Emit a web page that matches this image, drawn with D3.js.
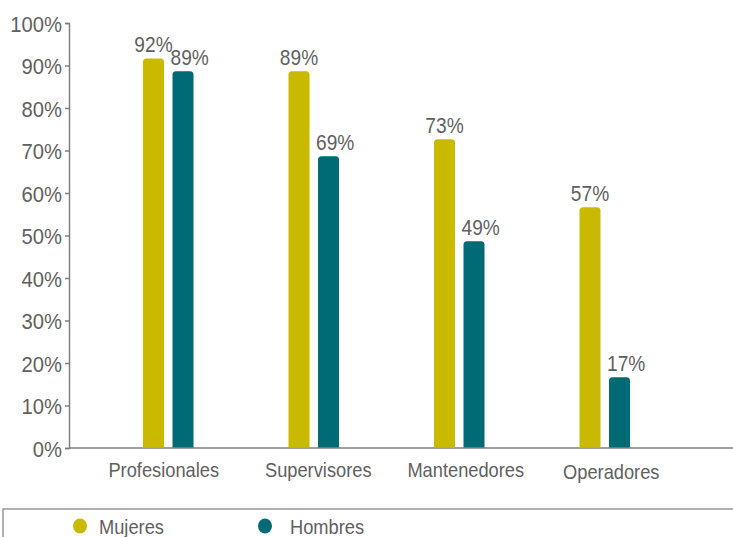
<!DOCTYPE html>
<html><head><meta charset="utf-8">
<script src="https://cdn.jsdelivr.net/npm/d3@7"></script>
<style>
body{margin:0;background:#fff;}
text{font-family:"Liberation Sans",Arial,sans-serif;fill:#5f5f5f;}
</style></head>
<body><svg id="c" width="733" height="537"></svg>
<script>
const categories = ["Profesionales","Supervisores","Mantenedores","Operadores"];
const series = ["Mujeres","Hombres"];
const mujeres = [92,89,73,57];
const hombres = [89,69,49,17];
const yTicks = [0,10,20,30,40,50,60,70,80,90,100];
const colors = {Mujeres:"#C9BA00", Hombres:"#006B75"};
const SX = 0.87;

const svg = d3.select("#c");
const x0 = d3.scaleBand().domain(categories).range([96,678]).padding(0);
const x1 = d3.scaleBand().domain(series).range([0,50.5]).paddingInner(0.288).paddingOuter(0);
const y = d3.scaleLinear().domain([0,100]).range([448,23]);

function narrow(sel, xf, yf, sx){
  sel.attr("x",0).attr("y",0)
     .attr("transform",(d,i)=>`translate(${xf(d,i)},${yf(d,i)}) scale(${sx||SX},1)`);
}

// y axis
const yAxis = d3.axisLeft(y).tickValues(yTicks).tickSize(4).tickFormat(d=>d+"%");
const gy = svg.append("g").attr("transform","translate(69,0)").call(yAxis);
gy.attr("font-family",null).attr("font-size",null);
gy.select(".domain").attr("stroke","#7f7f7f").attr("stroke-width",1.5);
gy.selectAll(".tick line").attr("stroke","#7f7f7f").attr("stroke-width",1.5);
gy.selectAll(".tick text").attr("font-size",22).attr("dy",null).attr("fill","#5f5f5f")
  .call(narrow, ()=>-7, ()=>8, 0.92);

// x axis line
svg.append("line").attr("x1",69).attr("x2",733).attr("y1",y(0)).attr("y2",y(0))
  .attr("stroke","#7f7f7f").attr("stroke-width",1.5);

const data = categories.map((c,i)=>({cat:c, vals:[{s:"Mujeres",v:mujeres[i]},{s:"Hombres",v:hombres[i]}]}));

const g = svg.append("g").selectAll("g").data(data).join("g")
  .attr("transform",d=>`translate(${x0(d.cat)+47},0)`);

g.selectAll("path").data(d=>d.vals).join("path")
  .attr("fill",d=>colors[d.s])
  .attr("d",d=>{
    const x=x1(d.s), w=x1.bandwidth(), top=y(d.v)+1.5, bot=y(0)-0.5, r=3.5;
    return `M${x},${bot}V${top+r}Q${x},${top} ${x+r},${top}H${x+w-r}Q${x+w},${top} ${x+w},${top+r}V${bot}Z`;
  });

g.selectAll("text").data(d=>d.vals).join("text")
  .attr("text-anchor",d=>d.s==="Mujeres"?"middle":"start").attr("font-size",22)
  .text(d=>d.v+"%")
  .call(narrow, d=>d.s==="Mujeres"?x1(d.s)+x1.bandwidth()/2:x1(d.s)-2, d=>y(d.v)-5);

// category labels
const labelDy = [0,0,0,2];
const labelDx = [-5,4,6,6];
svg.append("g").selectAll("text").data(categories).join("text")
  .attr("text-anchor","middle").attr("font-size",21)
  .text(d=>d)
  .call(narrow, (d,i)=>x0(d)+x0.bandwidth()/2+labelDx[i], (d,i)=>477+labelDy[i]);

// legend
svg.append("rect").attr("x",3).attr("y",509).attr("width",740).attr("height",40)
  .attr("fill","none").attr("stroke","#7f7f7f").attr("stroke-width",1.2);
const legX = [80,265];
const lg = svg.append("g").selectAll("g").data(series).join("g")
  .attr("transform",(d,i)=>`translate(${legX[i]},526)`);
lg.append("ellipse").attr("rx",7).attr("ry",7.5).attr("fill",d=>colors[d]);
lg.append("text").attr("font-size",21).text(d=>d)
  .call(narrow, (d,i)=>[19,25][i], ()=>8);
</script></body></html>
